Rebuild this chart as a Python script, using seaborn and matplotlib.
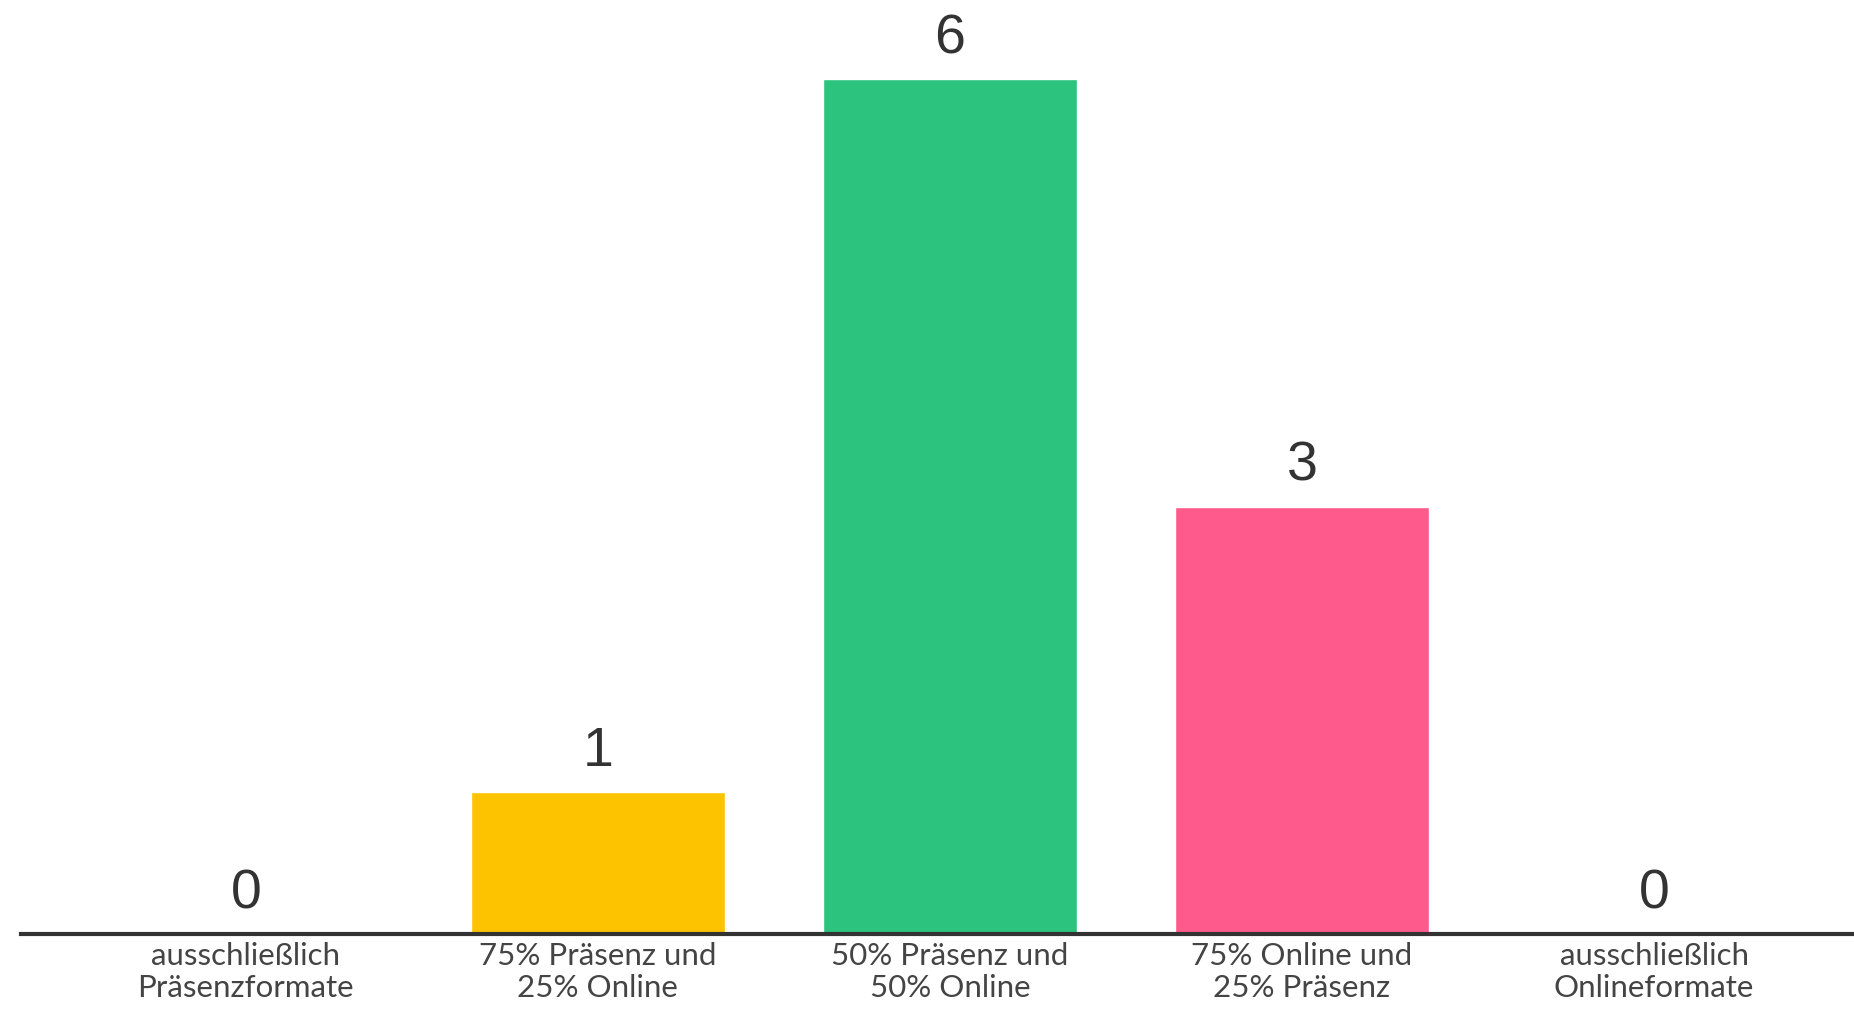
import seaborn as sns
import matplotlib.pyplot as plt
import pandas as pd

# Antworten und Anzahl
categories = [
    "ausschließlich\nPräsenzformate",
    "75% Präsenz und\n25% Online",
    "50% Präsenz und\n50% Online",
    "75% Online und\n25% Präsenz",
    "ausschließlich\nOnlineformate",
]
counts = [0, 1, 6, 3, 0]
colors = ["#5b8def", "#fdc300", "#2bc37d", "#ff5a8c", "#a05ae6"]


def main():
    sns.set_style("white")
    plt.rcParams["font.family"] = ["Liberation Sans", "DejaVu Sans"]

    df = pd.DataFrame({"answer": categories, "count": counts})

    fig = plt.figure(figsize=(18.54, 10.09), dpi=100)
    ax = fig.add_axes([0.0113, 0.0743, 0.9887, 0.9257])

    sns.barplot(data=df, x="answer", y="count", hue="answer",
                palette=colors, width=0.72, saturation=1,
                legend=False, ax=ax)

    for c in ax.containers:
        ax.bar_label(c, fontsize=40, color="#333333", padding=10)

    ax.set_xlim(-0.639, 4.568)
    ax.set_ylim(0, 6.555)
    ax.set_xlabel("")
    ax.set_ylabel("")
    ax.set_yticks([])
    ax.tick_params(axis="x", length=0, pad=6)
    for lab in ax.get_xticklabels():
        lab.set_fontfamily(["Lato", "DejaVu Sans"])
        lab.set_fontsize(22.5)
        lab.set_color("#444444")
        lab.set_linespacing(1.15)

    for side in ["top", "left", "right"]:
        ax.spines[side].set_visible(False)
    ax.spines["bottom"].set_linewidth(3)
    ax.spines["bottom"].set_color("#333333")

    fig.savefig("out.png", dpi=100)


if __name__ == "__main__":
    main()
